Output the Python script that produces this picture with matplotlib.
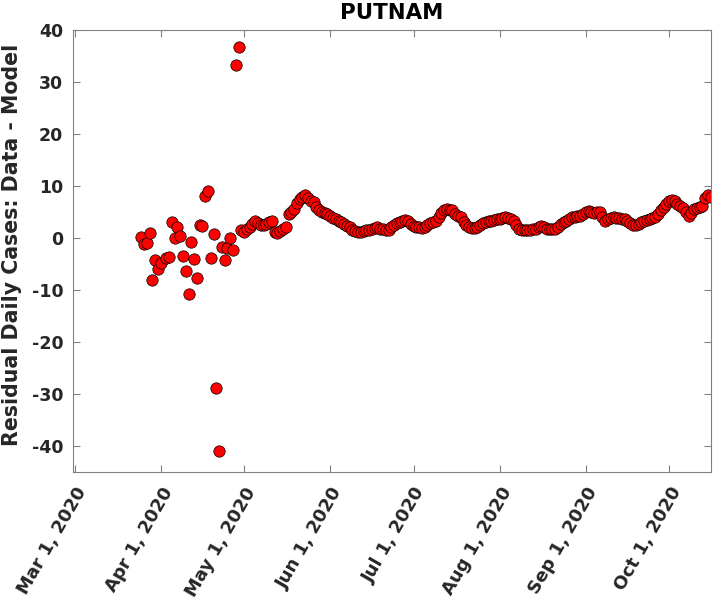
import numpy as np
import matplotlib
matplotlib.use('Agg')
import matplotlib.pyplot as plt
import matplotlib.dates as mdates
import matplotlib.transforms as mtransforms

# residuals, days counted from Mar 1 2020
early_days = [24, 25, 26, 27, 28, 29, 30, 31, 33, 34, 35, 36, 37, 38, 39, 40, 41, 42,
              43, 44, 45, 46, 47, 48, 49, 50, 51, 52, 53, 54, 55, 56, 57, 58, 59]
early_resid = [0.1, -1.2, -0.9, 0.9, -8.1, -4.2, -5.9, -4.9, -3.8, -3.6, 3.0, 0.0, 2.0, 0.4,
               -3.4, -6.4, -10.8, -0.7, -4.0, -7.7, 2.5, 2.3, 8.0, 9.0, -3.8, 0.8, -28.9,
               -41.1, -1.7, -4.3, -2.0, 0.0, -2.3, 33.2, 36.7]

late_start = 60
late_resid = [1.6, 1.1, 1.8, 2.0, 2.6, 3.3, 2.8, 2.4, 2.5, 2.7,
              3.0, 3.3, 1.2, 1.0, 1.3, 1.8, 2.0, 4.6, 5.0, 5.6,
              6.8, 7.5, 7.9, 8.3, 7.6, 7.0, 6.9, 6.0, 5.3, 5.0,
              4.8, 4.6, 4.2, 3.8, 3.6, 3.3, 3.0, 2.7, 2.3, 2.0,
              1.6, 1.3, 1.1, 1.2, 1.4, 1.5, 1.6, 1.8, 1.9, 2.0,
              1.8, 1.7, 1.6, 1.6, 2.0, 2.5, 2.8, 3.0, 3.2, 3.5,
              3.2, 2.6, 2.2, 2.1, 2.0, 1.9, 2.0, 2.4, 2.8, 3.1,
              3.3, 4.0, 4.8, 5.3, 5.6, 5.4, 5.3, 4.6, 4.2, 4.0,
              3.0, 2.4, 2.0, 1.9, 1.9, 2.0, 2.4, 2.8, 3.0, 3.2,
              3.3, 3.5, 3.6, 3.7, 3.8, 4.0, 3.9, 3.6, 3.3, 2.5,
              1.8, 1.6, 1.6, 1.5, 1.6, 1.7, 1.8, 2.0, 2.2, 2.0,
              1.8, 1.7, 1.7, 1.7, 2.1, 2.6, 3.0, 3.3, 3.6, 4.0,
              4.1, 4.2, 4.3, 4.6, 4.9, 5.1, 5.0, 4.8, 5.0, 4.9,
              4.0, 3.3, 3.6, 3.8, 4.0, 3.9, 3.8, 3.7, 3.6, 3.2,
              2.8, 2.5, 2.4, 2.7, 3.0, 3.3, 3.5, 3.7, 3.9, 4.0,
              4.6, 5.3, 6.0, 6.6, 7.0, 7.2, 7.0, 6.5, 6.2, 5.8,
              5.0, 4.3, 4.8, 5.6, 5.8, 6.0, 6.2, 7.6, 8.3, 7.8]

tick_months = ['2020-03-01', '2020-04-01', '2020-05-01', '2020-06-01',
               '2020-07-01', '2020-08-01', '2020-09-01', '2020-10-01']
tick_labels = ['Mar 1, 2020', 'Apr 1, 2020', 'May 1, 2020', 'Jun 1, 2020',
               'Jul 1, 2020', 'Aug 1, 2020', 'Sep 1, 2020', 'Oct 1, 2020']
yticks = [-40, -30, -20, -10, 0, 10, 20, 30, 40]

start = np.datetime64('2020-03-01')
days = np.array(early_days + list(range(late_start, late_start + len(late_resid))))
resid = np.array(early_resid + late_resid)
dates = start + days.astype('timedelta64[D]')

plt.rcParams['font.family'] = 'DejaVu Sans'
plt.rcParams['font.weight'] = 'bold'
txt = '#262626'
gray = '#808080'

fig = plt.figure(figsize=(7.2, 5.99), dpi=100)
ax = fig.add_axes([0.1014, 0.2125, 0.8861, 0.7374])

ax.plot(dates, resid, 'o', markerfacecolor='#ff0000', markeredgecolor='black',
        markersize=8.2, markeredgewidth=0.5, linestyle='none')

x0 = mdates.date2num(start)
ax.set_xlim(x0 - 0.6, x0 + 229.1)
ax.set_ylim(-45, 40)

tick_dates = [np.datetime64(t) for t in tick_months]
ax.set_xticks(mdates.date2num(tick_dates))
ax.set_xticklabels(tick_labels, rotation=60, ha='right', va='top', rotation_mode='anchor',
                   fontsize=13, fontweight='bold', color=txt)
shift = mtransforms.ScaledTranslation(5 / 100, 0, fig.dpi_scale_trans)
for lab in ax.get_xticklabels():
    lab.set_transform(lab.get_transform() + shift)
ax.set_yticks(yticks)
ax.set_yticklabels([str(v) for v in yticks], fontsize=12.5, fontweight='bold', color=txt)

ax.tick_params(direction='in', length=5, width=0.8, color=gray, top=True, right=True)
ax.tick_params(axis='x', pad=9)
ax.tick_params(axis='y', pad=7)
for s in ax.spines.values():
    s.set_color(gray)
    s.set_linewidth(0.8)

ax.set_ylabel('Residual Daily Cases: Data - Model', fontsize=14.8, fontweight='bold', color=txt)
ax.yaxis.set_label_coords(-0.080, 0.513)
ax.set_title('PUTNAM', fontsize=15.4, fontweight='bold', color='black', pad=7.7)

fig.savefig('out.png', dpi=100)
